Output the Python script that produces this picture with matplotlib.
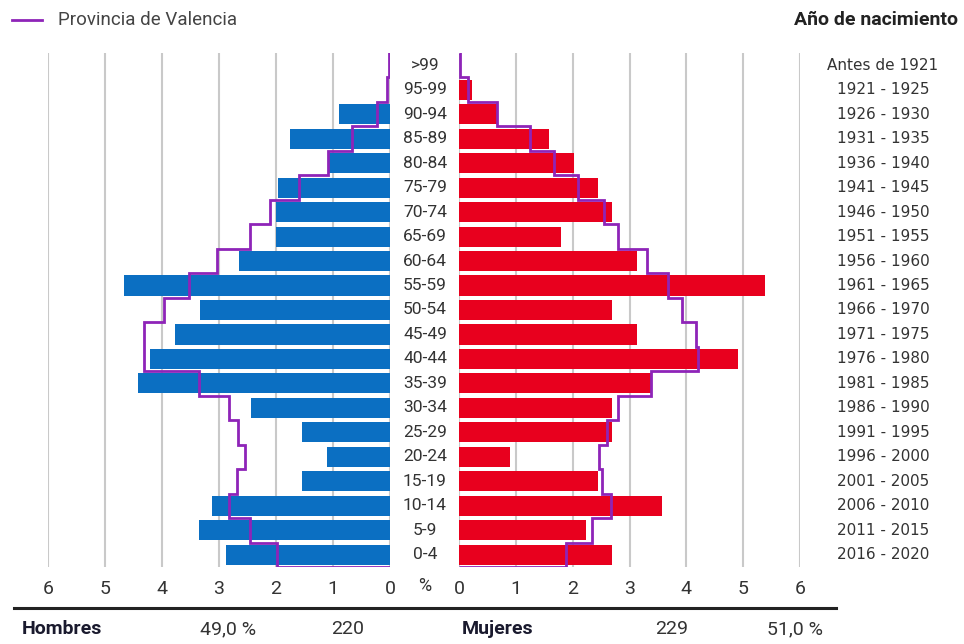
#!/usr/bin/env python3

import matplotlib
matplotlib.use('Agg')
import matplotlib.pyplot as plt
import matplotlib.transforms as mtransforms
import numpy as np

# data, from the youngest group (bottom) to the oldest (top)
ages = ['0-4', '5-9', '10-14', '15-19', '20-24', '25-29', '30-34', '35-39', '40-44', '45-49',
        '50-54', '55-59', '60-64', '65-69', '70-74', '75-79', '80-84', '85-89', '90-94', '95-99', '>99']
births = ['2016 - 2020', '2011 - 2015', '2006 - 2010', '2001 - 2005', '1996 - 2000', '1991 - 1995',
          '1986 - 1990', '1981 - 1985', '1976 - 1980', '1971 - 1975', '1966 - 1970', '1961 - 1965',
          '1956 - 1960', '1951 - 1955', '1946 - 1950', '1941 - 1945', '1936 - 1940', '1931 - 1935',
          '1926 - 1930', '1921 - 1925', 'Antes de 1921']
men = [2.88, 3.35, 3.12, 1.54, 1.11, 1.54, 2.44, 4.42, 4.21, 3.77, 3.33,
       4.67, 2.65, 2.0, 2.0, 1.97, 1.09, 1.75, 0.9, 0.0, 0.0]
men_prov = [1.98, 2.46, 2.82, 2.68, 2.54, 2.66, 2.82, 3.35, 4.31, 4.31, 3.96,
            3.53, 3.03, 2.46, 2.1, 1.6, 1.09, 0.67, 0.23, 0.05, 0.02]
women = [2.7, 2.24, 3.58, 2.45, 0.89, 2.7, 2.7, 3.39, 4.91, 3.14, 2.7,
         5.38, 3.14, 1.8, 2.7, 2.45, 2.02, 1.58, 0.66, 0.23, 0.0]
women_prov = [1.89, 2.34, 2.68, 2.52, 2.47, 2.6, 2.8, 3.38, 4.21, 4.17, 3.93,
              3.68, 3.31, 2.79, 2.56, 2.1, 1.68, 1.25, 0.66, 0.15, 0.02]
ticks = [0, 1, 2, 3, 4, 5, 6]
totals = {'Hombres': ('49,0 %', '220'), 'Mujeres': ('229', '51,0 %')}

plt.rcParams['font.family'] = ['Roboto', 'DejaVu Sans']

blue = '#0b6fc2'
red = '#e8001e'
purple = '#8e24b8'
grid = '#c9c9c9'
txt = '#333333'

W, H = 964, 644
fig = plt.figure(figsize=(W / 100, H / 100), dpi=100)

y = np.arange(len(ages))
edges = np.arange(len(ages) + 1) - 0.5
top, bottom = 53, 567

def make_ax(x0, x1):
    ax = fig.add_axes([x0 / W, 1 - bottom / H, (x1 - x0) / W, (bottom - top) / H])
    for s in ax.spines.values():
        s.set_visible(False)
    ax.set_ylim(-0.5, len(ages) - 0.5)
    ax.set_yticks([])
    ax.set_xticks(ticks)
    ax.tick_params(axis='x', length=0, pad=9, labelsize=14, labelcolor=txt)
    for t in ticks:
        ax.axvline(t, color=grid, lw=1.5, zorder=0)
    return ax

ax_l = make_ax(48, 390)
ax_l.set_xlim(6, 0)
ax_l.barh(y, men, height=0.82, color=blue, zorder=2)
ax_l.stairs(men_prov, edges, orientation='horizontal', baseline=0, color=purple, lw=2, zorder=3)

ax_r = make_ax(459, 800)
ax_r.set_xlim(0, 6)
ax_r.barh(y, women, height=0.82, color=red, zorder=2)
ax_r.stairs(women_prov, edges, orientation='horizontal', baseline=0, color=purple, lw=2, zorder=3)

# labels in the middle and on the right
tr = mtransforms.blended_transform_factory(fig.transFigure, ax_l.transData)
for i in range(len(ages)):
    fig.text(425 / W, y[i], ages[i], transform=tr, ha='center', va='center', fontsize=12.5, color=txt)
    fig.text(883 / W, y[i], births[i], transform=tr, ha='center', va='center', fontsize=11,
             color=txt, family='DejaVu Sans')
fig.text(425 / W, 1 - 586 / H, '%', ha='center', va='center', fontsize=13, color=txt)

# legend and header
fig.add_artist(plt.Line2D([12 / W, 42 / W], [1 - 20 / H, 1 - 20 / H], color=purple, lw=2))
fig.text(58 / W, 1 - 20 / H, 'Provincia de Valencia', ha='left', va='center', fontsize=13.5, color='#444444')
fig.text(958 / W, 1 - 20 / H, 'Año de nacimiento', ha='right', va='center', fontsize=14,
         fontweight='bold', color='#222222')

# totals row
fig.add_artist(plt.Line2D([14 / W, 836 / W], [1 - 608 / H, 1 - 608 / H], color='#222222', lw=2.2))
ty = 1 - 629 / H
fig.text(22 / W, ty, 'Hombres', ha='left', va='center', fontsize=14, fontweight='bold', color='#1a1a2e')
fig.text(228 / W, ty, totals['Hombres'][0], ha='center', va='center', fontsize=14, color=txt)
fig.text(348 / W, ty, totals['Hombres'][1], ha='center', va='center', fontsize=14, color=txt)
fig.text(462 / W, ty, 'Mujeres', ha='left', va='center', fontsize=14, fontweight='bold', color='#1a1a2e')
fig.text(672 / W, ty, totals['Mujeres'][0], ha='center', va='center', fontsize=14, color=txt)
fig.text(795 / W, ty, totals['Mujeres'][1], ha='center', va='center', fontsize=14, color=txt)

fig.savefig('out.png', dpi=100)
